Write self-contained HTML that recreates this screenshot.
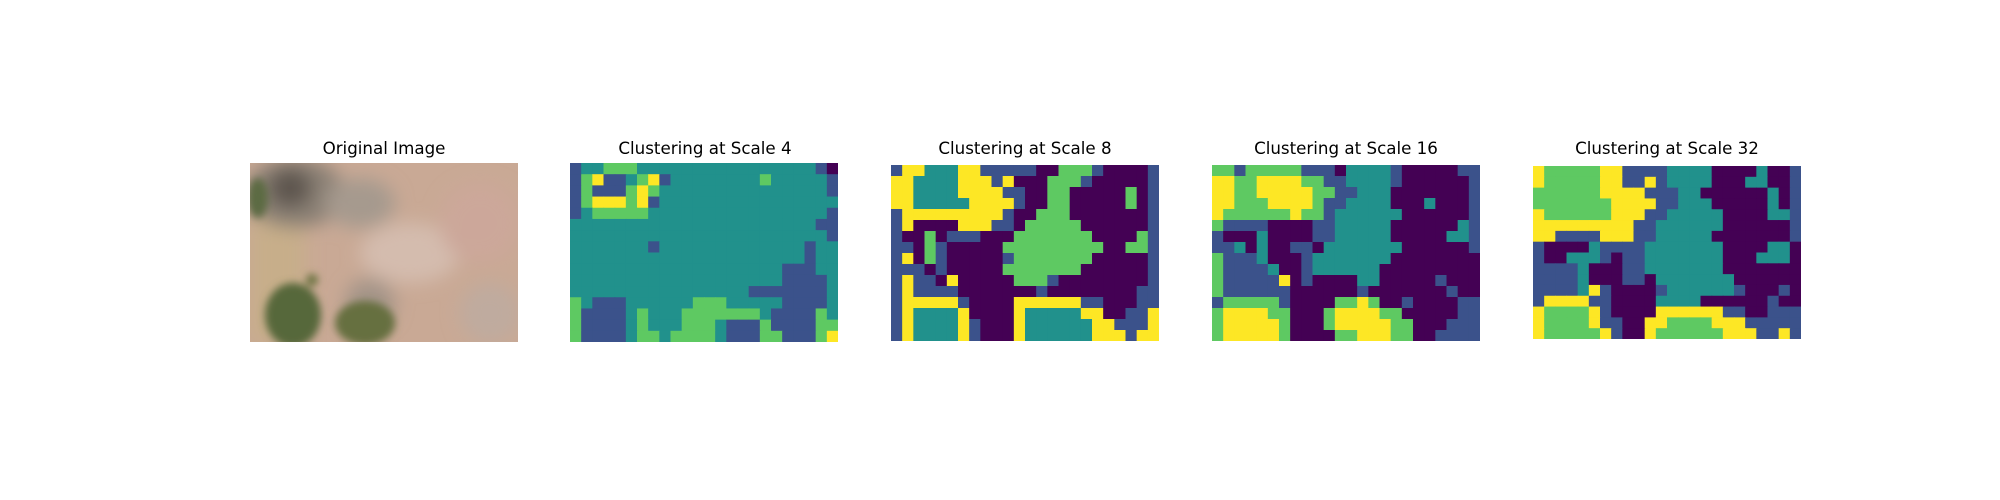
<!DOCTYPE html>
<html><head><meta charset="utf-8"><style>
html,body{margin:0;padding:0;background:#fff;}
#fig{position:relative;width:2000px;height:500px;background:#fff;overflow:hidden;font-family:"DejaVu Sans","Liberation Sans",sans-serif;}
.title{position:absolute;width:340px;text-align:center;font-size:16.7px;color:#000;line-height:20px;}
svg{position:absolute;display:block;}
</style></head><body>
<div id="fig">
  <div class="title" style="left:214px;top:138px">Original Image</div>
  <div class="title" style="left:535px;top:138px">Clustering at Scale 4</div>
  <div class="title" style="left:855px;top:138px">Clustering at Scale 8</div>
  <div class="title" style="left:1176px;top:138px">Clustering at Scale 16</div>
  <div class="title" style="left:1497px;top:138px">Clustering at Scale 32</div>

  <svg style="left:250px;top:163px" width="268" height="179" viewBox="0 0 268 179">
    <defs>
      <filter id="bl" x="-30%" y="-30%" width="160%" height="160%"><feGaussianBlur stdDeviation="9"/></filter>
      <filter id="bl2" x="-30%" y="-30%" width="160%" height="160%"><feGaussianBlur stdDeviation="4"/></filter>
    </defs>
    <rect width="268" height="179" fill="#c9a995"/>
    <g filter="url(#bl)">
      <rect x="0" y="55" width="55" height="124" fill="#c7ae8a"/>
      <ellipse cx="45" cy="30" rx="50" ry="35" fill="#8a8075"/>
      <ellipse cx="40" cy="25" rx="22" ry="20" fill="#5e5650"/>
      <ellipse cx="110" cy="40" rx="35" ry="25" fill="#a69a8e"/>
      <ellipse cx="160" cy="90" rx="50" ry="30" fill="#d4bcae"/>
      <ellipse cx="230" cy="60" rx="40" ry="40" fill="#cca79a"/>
      <ellipse cx="240" cy="150" rx="30" ry="30" fill="#bfab9f"/>
      <ellipse cx="120" cy="140" rx="25" ry="25" fill="#a49488"/>
    </g>
    <g filter="url(#bl2)">
      <ellipse cx="43" cy="152" rx="28" ry="32" fill="#56683a"/>
      <ellipse cx="115" cy="160" rx="30" ry="22" fill="#66703f"/>
      <ellipse cx="8" cy="35" rx="10" ry="20" fill="#5c6a42"/>
      <ellipse cx="62" cy="117" rx="6" ry="6" fill="#6a7240"/>
    </g>
  </svg>
  <svg id="p4" style="left:570px;top:163px" width="268" height="179"></svg>
  <svg id="p8" style="left:891px;top:165px" width="268" height="176"></svg>
  <svg id="p16" style="left:1212px;top:165px" width="268" height="176"></svg>
  <svg id="p32" style="left:1533px;top:166px" width="268" height="173"></svg>
</div>
<script>
const palette = ["#440154","#3b528b","#21918c","#5ec962","#fde725"];
const labelsScale4 = [
"122333222222222222222210",
"134112341222222223222221",
"131113432222222222222221",
"134443412222222222222222",
"123333322222222222222221",
"222222222222222222222211",
"222222222222222222222221",
"222222212222222222222122",
"222222222222222222222122",
"222222222222222222211122",
"222222222222222222211112",
"222222222222222211111112",
"321112222223332222211112",
"311112322233333332111132",
"311112322233321113111133",
"311112332333321113311134"];
const labelsScale8 = [
"144222441111100333100001",
"442222444140003331000001",
"442222444411003300000301",
"442222244441003300000301",
"144444444410033300000001",
"140000444110333330000001",
"100301110003333333000031",
"110310000033333333300331",
"140310000013333333000001",
"111010000033333330000001",
"141104000003331000000001",
"141111000000010000000011",
"144444100004444441100011",
"142222400004222224400114",
"142222410004222222441114",
"142222410004222222444144"];
const labelsScale16 = [
"331333331110222210000011",
"443344443311222210000001",
"443344444331122200000001",
"443334444311222200020001",
"433333343312222220000001",
"311110000112222200000021",
"100020000112222200000221",
"112020011022222220000001",
"311120001222222200000000",
"311112001222222000000000",
"311111401000022000001000",
"311111100000010000000100",
"133333100003343001000011",
"344443300034444330000011",
"344444300034444433000111",
"344444300003344433001111"];
const labelsScale32 = [
"433333441111222200002001",
"433333441141222200022001",
"333333444411122000000201",
"333333344441122200000201",
"433333344411222220000221",
"444444444112222220000001",
"441111444112222200000001",
"100002111122222220000220",
"100222101122222220002220",
"111120001122222220000000",
"111120001102222222000000",
"111124100001222222100010",
"144441100002222000000100",
"433334100004444441100111",
"433334110044333344411111",
"433333410043333334441141"];

function drawMap(id, grid, w, h) {
  const svg = document.getElementById(id);
  const ns = "http://www.w3.org/2000/svg";
  const rows = grid.length, cols = grid[0].length;
  const cw = w / cols, ch = h / rows;
  for (let r = 0; r < rows; r++) {
    for (let c = 0; c < cols; c++) {
      const rect = document.createElementNS(ns, "rect");
      rect.setAttribute("x", (c * cw).toFixed(2));
      rect.setAttribute("y", (r * ch).toFixed(2));
      rect.setAttribute("width", (cw + 0.6).toFixed(2));
      rect.setAttribute("height", (ch + 0.6).toFixed(2));
      rect.setAttribute("fill", palette[+grid[r][c]]);
      
      
      svg.appendChild(rect);
    }
  }
}
drawMap("p4", labelsScale4, 268, 179);
drawMap("p8", labelsScale8, 268, 176);
drawMap("p16", labelsScale16, 268, 176);
drawMap("p32", labelsScale32, 268, 173);
</script>
</body></html>
